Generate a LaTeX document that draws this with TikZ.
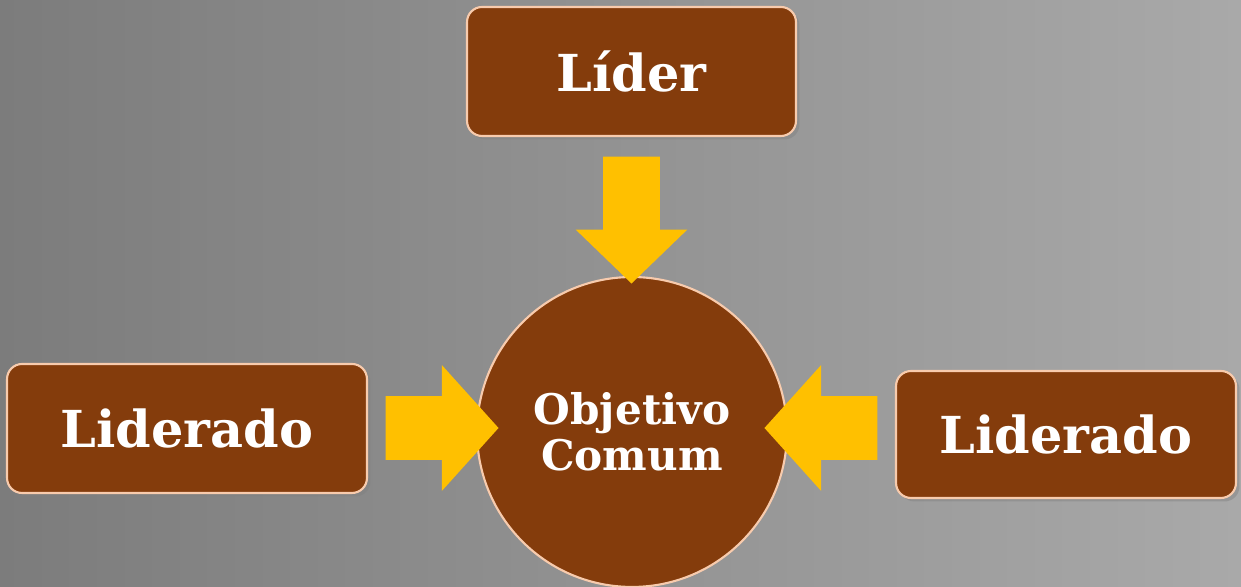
\documentclass[tikz,border=0pt]{standalone}
\usepackage{fontspec}
\setmainfont{DejaVu Serif}
\usetikzlibrary{shapes.arrows,shadows}
\definecolor{brownbox}{HTML}{843C0C}
\definecolor{peachline}{HTML}{F8CBAD}
\definecolor{goldarrow}{HTML}{FFC000}
\definecolor{bgleft}{HTML}{7C7C7C}
\definecolor{bgright}{HTML}{A9A9A9}
\tikzset{
	rolebox/.style={draw=peachline, line width=1.2pt, fill=brownbox, rounded corners=0.3cm,
		text=white, font=\bfseries\fontsize{29}{32}\selectfont,
		drop shadow={shadow xshift=0.07cm, shadow yshift=-0.07cm, opacity=0.45}},
	goalcircle/.style={circle, draw=peachline, line width=1.2pt, fill=brownbox, minimum size=6.2cm,
		text=white, align=center, font=\bfseries\fontsize{24}{26}\selectfont},
	pusharrow/.style={single arrow, fill=goldarrow, inner xsep=0pt, text width=0pt, anchor=tip}
}
\begin{document}
\begin{tikzpicture}[x=0.02cm,y=0.02cm]
			\useasboundingbox (0,0) rectangle (1241,587);
			\shade[left color=bgleft, right color=bgright] (0,0) rectangle (1241,587);
			
			\node[rolebox, minimum width=6.58cm, minimum height=2.58cm] (lider) at (631.5,515.5) {Líder};
			\node[rolebox, minimum width=7.2cm, minimum height=2.58cm] (liderado1) at (187,158.5) {Liderado};
			\node[rolebox, minimum width=6.8cm, minimum height=2.54cm] (liderado2) at (1066,152.5) {Liderado};
			
			\node[goalcircle] (objetivo) at (632,155) {Objetivo\\Comum};
			
			\node[pusharrow, inner ysep=0.56cm, single arrow head extend=0.55cm, minimum height=2.54cm,
				single arrow tip angle=92, rotate=-90] (a1) at (631.5,303) {};
			\node[pusharrow, inner ysep=0.63cm, single arrow head extend=0.62cm, minimum height=2.26cm,
				single arrow tip angle=96] (a2) at (499,159) {};
			\node[pusharrow, inner ysep=0.63cm, single arrow head extend=0.62cm, minimum height=2.26cm,
				single arrow tip angle=96, rotate=180] (a3) at (764,159) {};
\end{tikzpicture}
\end{document}
